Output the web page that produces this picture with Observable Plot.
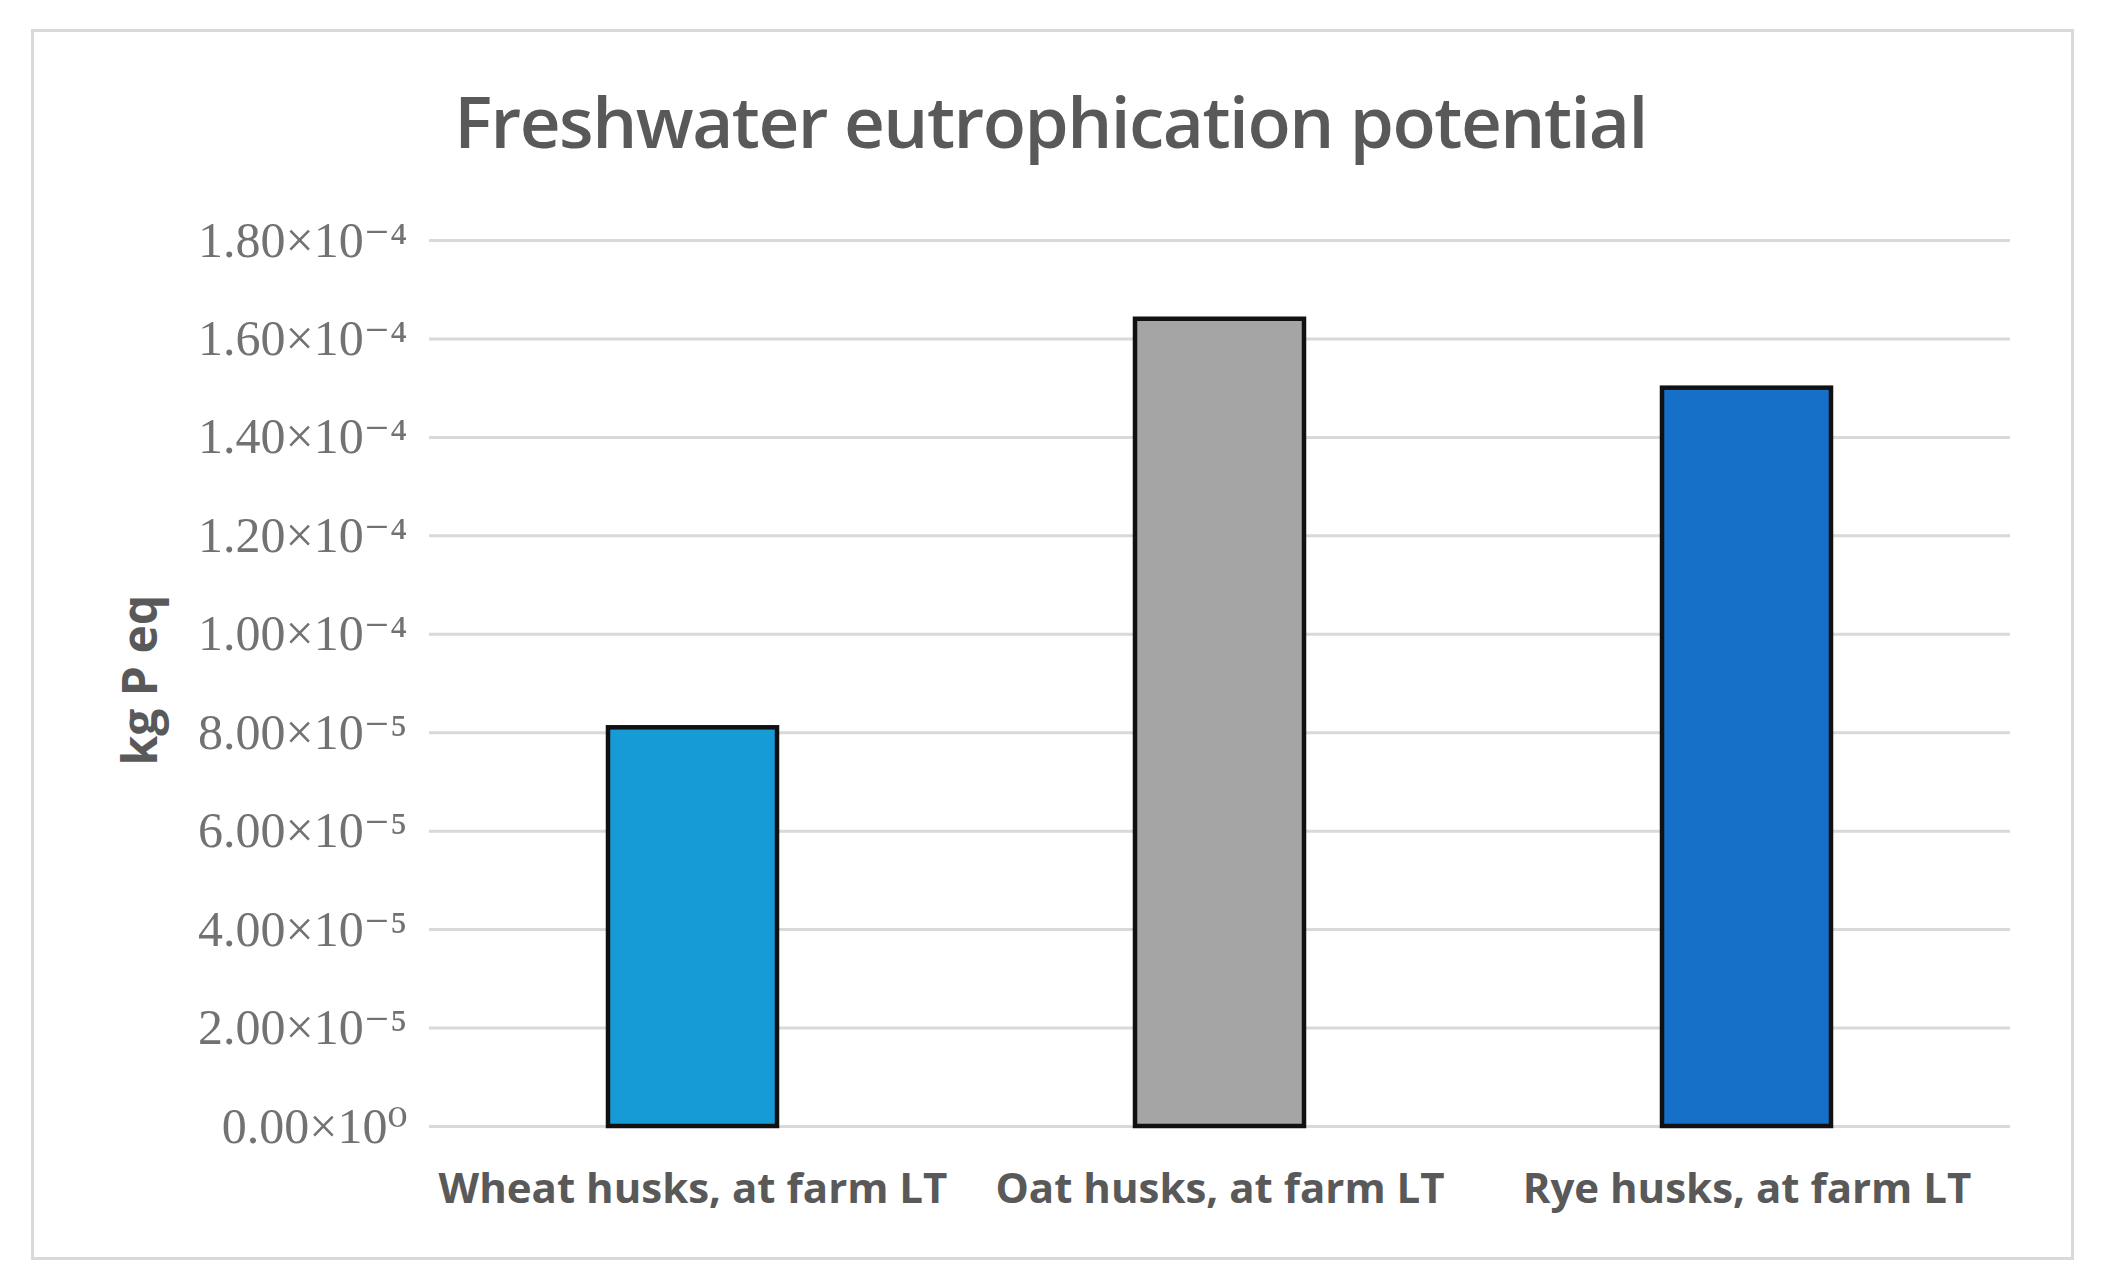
<!DOCTYPE html>
<html>
<head>
<meta charset="utf-8">
<script src="https://cdn.jsdelivr.net/npm/d3@7"></script>
<script src="https://cdn.jsdelivr.net/npm/@observablehq/plot@0.6"></script>
<style>
  html, body { margin: 0; padding: 0; background: #fff; }
  #wrap { position: relative; width: 2101px; height: 1287px; overflow: hidden; }
  #frame { position: absolute; left: 31px; top: 29px; width: 2037px; height: 1225px; border: 3px solid #d9d9d9; pointer-events: none; }
  #title { position: absolute; left: 0; top: 0; width: 2101px; height: 200px; text-align: center;
           font-family: "Open Sans", sans-serif; font-weight: 600; font-size: 71px; color: #595959;
           line-height: 1; letter-spacing: -1.5px; box-sizing: border-box; padding-top: 85px; }
  #chart { position: absolute; left: 0; top: 200px; }
</style>
</head>
<body>
<div id="wrap">
  <div id="frame"></div>
  <div id="title">Freshwater eutrophication potential</div>
  <div id="chart"></div>
</div>
<script>
const categories = ["Wheat husks, at farm LT", "Oat husks, at farm LT", "Rye husks, at farm LT"];
const values = [8.1e-5, 1.64e-4, 1.50e-4];
const barColors = ["#179BD7", "#A5A5A5", "#1670C8"];
const yTicks = [0, 2e-5, 4e-5, 6e-5, 8e-5, 1.0e-4, 1.2e-4, 1.4e-4, 1.6e-4, 1.8e-4];
const yTickLabels = ["0.00×10⁰", "2.00×10⁻⁵", "4.00×10⁻⁵", "6.00×10⁻⁵", "8.00×10⁻⁵",
                     "1.00×10⁻⁴", "1.20×10⁻⁴", "1.40×10⁻⁴", "1.60×10⁻⁴", "1.80×10⁻⁴"];
const yLabel = "kg P eq";

const data = categories.map((c, i) => ({category: c, value: values[i]}));

const chart = Plot.plot({
  width: 2101,
  height: 1087,
  marginLeft: 429,
  marginRight: 91,
  marginTop: 40,
  marginBottom: 161,
  style: {background: "transparent"},
  x: {domain: categories, paddingInner: 0.68, paddingOuter: 0.34},
  y: {domain: [0, 1.8e-4]},
  color: {domain: categories, range: barColors},
  marks: [
    Plot.gridY(yTicks, {stroke: "#d9d9d9", strokeOpacity: 1, strokeWidth: 3}),
    Plot.barY(data, {x: "category", y: "value", fill: "category", stroke: "#111", strokeWidth: 4.5}),
    Plot.axisX({tickSize: 0, tickPadding: 47, label: null, fontSize: 42, fontWeight: 700,
                fontFamily: "Open Sans, sans-serif", fill: "#595959", letterSpacing: -0.5}),
    Plot.axisY(yTicks, {tickSize: 0, tickPadding: 22, label: null,
                tickFormat: d => yTickLabels[yTicks.indexOf(d)],
                fontSize: 50, fontFamily: "Liberation Serif, DejaVu Serif, serif", fill: "#727272"}),
    Plot.text([yLabel], {frameAnchor: "left", dx: -288, dy: 82, rotate: -90, fontSize: 48, fontWeight: 700,
                fontFamily: "Open Sans, sans-serif", fill: "#595959"})
  ]
});
document.getElementById("chart").appendChild(chart);
</script>
</body>
</html>
